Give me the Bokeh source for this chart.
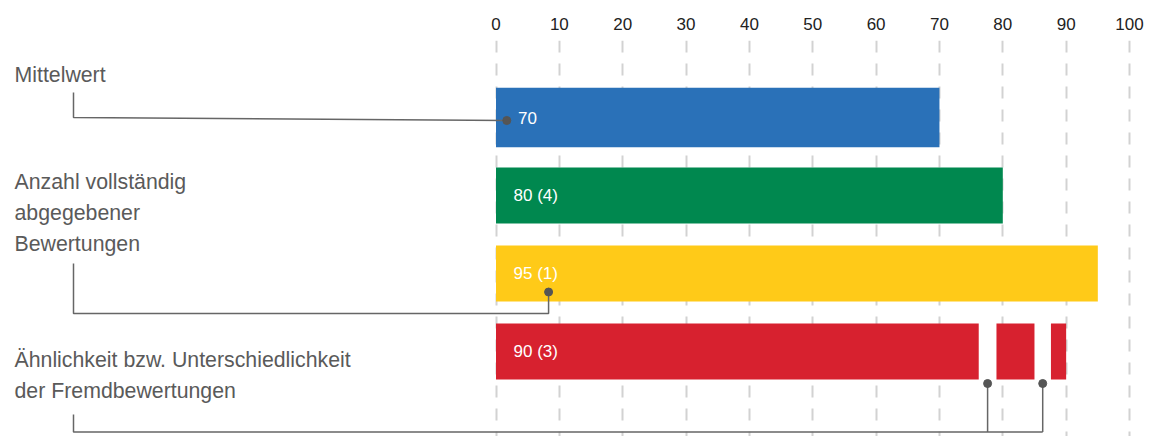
from bokeh.plotting import figure
from bokeh.models import Range1d, FixedTicker
from bokeh.core.properties import value
from bokeh.embed import file_html
from bokeh.resources import INLINE

# ---------------- data ----------------
bar_names = ["Mittelwert", "Anzahl (vollständig)", "Anzahl (Bewertungen)", "Ähnlichkeit"]
bar_values = [70, 80, 95, 90]
bar_counts = [None, 4, 1, 3]
bar_colors = ["#2A71B8", "#00884F", "#FFCA18", "#D7212F"]
red_segment_starts = [0, 79, 87.6]
red_segment_ends = [76.2, 85, 90]
tick_values = [0, 10, 20, 30, 40, 50, 60, 70, 80, 90, 100]
marker_blue = 1.7
marker_yellow = 8.3

label_mittelwert = ["Mittelwert"]
label_anzahl = ["Anzahl vollständig", "abgegebener", "Bewertungen"]
label_aehnlich = ["Ähnlichkeit bzw. Unterschiedlichkeit", "der Fremdbewertungen"]

# ---------------- geometry helpers (page px -> data) ----------------
X0, SX = 495.5, 6.335      # page x of value 0, px per unit
Y0, SY = 117.0, 78.0       # page y of first bar centre, px per row
FRAME_TOP = 40
W, H = 1161, 436
FRAME_BOTTOM = H


def px(page_x):
    return (page_x - X0) / SX


def py(page_y):
    return (page_y - Y0) / SY


FONT = value("Liberation Sans")
GRAY_TXT = "#5a5a5a"
LINE_C = "#666666"

p = figure(width=W, height=H, output_backend="svg", toolbar_location=None,
           x_range=Range1d(px(0), px(W)),
           y_range=Range1d(py(FRAME_BOTTOM), py(FRAME_TOP)),
           x_axis_location="above", y_axis_location=None,
           min_border_left=0, min_border_right=0, min_border_bottom=0,
           min_border_top=FRAME_TOP)
p.outline_line_color = None
p.background_fill_color = "white"
p.border_fill_color = "white"

ax = p.xaxis[0]
ax.ticker = FixedTicker(ticks=tick_values)
ax.axis_line_color = None
ax.major_tick_line_color = None
ax.minor_tick_line_color = None
ax.major_tick_in = 0
ax.major_tick_out = 0
ax.major_label_standoff = 11
ax.major_label_text_font = "Liberation Sans"
ax.major_label_text_font_size = "17px"
ax.major_label_text_color = "#222222"

p.ygrid.visible = False
p.xgrid.grid_line_color = "#d2d2d2"
p.xgrid.grid_line_width = 2
p.xgrid.grid_line_dash = "12 11"

# ---------------- bars ----------------
rows = list(range(len(bar_values)))
heights = [0.76, 0.72, 0.72, 0.72]
p.hbar(y=rows[:3], left=0, right=bar_values[:3], height=heights[:3],
       fill_color=bar_colors[:3], line_color=None)
p.hbar(y=[rows[3]] * len(red_segment_starts), left=red_segment_starts,
       right=red_segment_ends, height=heights[3],
       fill_color=bar_colors[3], line_color=None)

# value labels
val_texts = [f"{v}" if c is None else f"{v} ({c})" for v, c in zip(bar_values, bar_counts)]
label_x = [px(517.5), px(513), px(513), px(513)]
p.text(x=label_x, y=[r + 0.005 for r in rows], text=val_texts, text_color="white",
       text_font=FONT, text_font_size="17px", text_baseline="middle", text_align="left")

# ---------------- leader lines ----------------
# Mittelwert
p.line(x=[px(73), px(73), marker_blue], y=[py(92), py(117), py(120)],
       line_color=LINE_C, line_width=1.5)
p.scatter(x=[marker_blue], y=[py(120)], size=8, color="#555555")

# Anzahl
p.line(x=[px(73), px(73), marker_yellow, marker_yellow],
       y=[py(263), py(313), py(313), py(291.5)], line_color=LINE_C, line_width=1.5)
p.scatter(x=[marker_yellow], y=[py(291.5)], size=8, color="#555555")

# Ähnlichkeit: dots in the gaps of the red bar
gap_x = [(red_segment_ends[i] + red_segment_starts[i + 1]) / 2 for i in range(len(red_segment_starts) - 1)]
ybot = py(431.5)
p.line(x=[px(73), px(73), gap_x[-1]], y=[py(414), ybot, ybot], line_color=LINE_C, line_width=1.5)
for gx in gap_x:
    p.line(x=[gx, gx], y=[ybot, py(383)], line_color=LINE_C, line_width=1.5)
p.scatter(x=gap_x, y=[py(383)] * len(gap_x), size=8, color="#555555")

# ---------------- left labels ----------------
def add_lines(lines, first_baseline, step=31.2):
    p.text(x=[px(14)] * len(lines),
           y=[py(first_baseline + i * step) for i in range(len(lines))],
           text=lines, text_color=GRAY_TXT, text_font=FONT, text_font_size="21.3px",
           text_baseline="alphabetic", text_align="left")


add_lines(label_mittelwert, 74)
add_lines(label_anzahl, 181)
add_lines(label_aehnlich, 359)

open("out.html", "w").write(file_html(p, INLINE))
